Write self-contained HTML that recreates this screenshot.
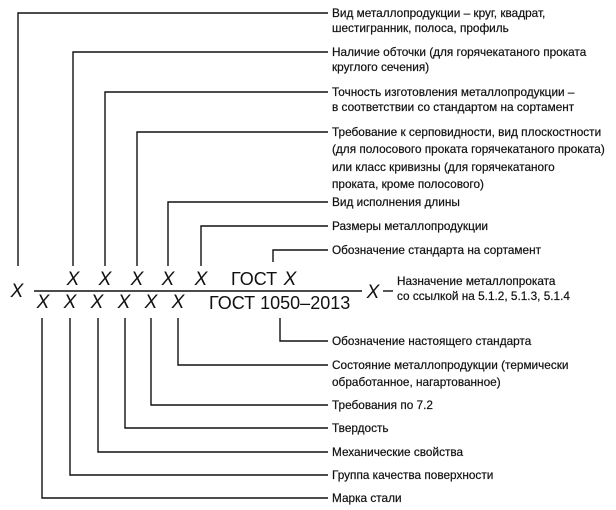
<!DOCTYPE html>
<html><head><meta charset="utf-8"><style>
html,body{margin:0;padding:0;background:#fff;width:616px;height:510px;overflow:hidden}
svg{display:block}
text{font-family:"Liberation Sans",Arial,sans-serif;fill:#111}
.t{font-size:11.8px;stroke:#111;stroke-width:0.2}
.x{font-size:19px;font-style:italic}
.g{font-size:18px}
</style></head><body>
<svg width="616" height="510" viewBox="0 0 616 510" xmlns="http://www.w3.org/2000/svg">
<g stroke="#111" stroke-width="1.4" fill="none">
<polyline points="18,266 18,13 328,13"/>
<polyline points="73,266 73,52 328,52"/>
<polyline points="105,266 105,92 328,92"/>
<polyline points="137,266 137,132 328,132"/>
<polyline points="168,266 168,202 328,202"/>
<polyline points="201,266 201,226 328,226"/>
<polyline points="273,262 273,250 328,250"/>
<line x1="34" y1="291" x2="362" y2="291"/>
<line x1="383" y1="291" x2="393" y2="291"/>
<polyline points="280,318 280,341 328,341"/>
<polyline points="178,318 178,365 328,365"/>
<polyline points="151,318 151,405 328,405"/>
<polyline points="125,318 125,428 328,428"/>
<polyline points="98,318 98,452 328,452"/>
<polyline points="70,318 70,475 328,475"/>
<polyline points="42,318 42,498 328,498"/>
</g>
<g class="x" text-anchor="middle">
<text x="17" y="297">X</text>
<text x="73" y="285">X</text><text x="105" y="285">X</text><text x="137" y="285">X</text><text x="168" y="285">X</text><text x="201" y="285">X</text>
<text x="290" y="285">X</text>
<text x="373" y="298">X</text>
<text x="43" y="308">X</text><text x="70" y="308">X</text><text x="97" y="308">X</text><text x="124" y="308">X</text><text x="151" y="308">X</text><text x="178" y="308">X</text>
</g>
<text class="g" x="231" y="285">ГОСТ</text>
<text class="g" x="209" y="309">ГОСТ 1050–2013</text>
<g class="t">
<text x="332" y="17">Вид металлопродукции – круг, квадрат,</text>
<text x="332" y="32">шестигранник, полоса, профиль</text>
<text x="332" y="56">Наличие обточки (для горячекатаного проката</text>
<text x="332" y="71">круглого сечения)</text>
<text x="332" y="96">Точность изготовления металлопродукции –</text>
<text x="332" y="111">в соответствии со стандартом на сортамент</text>
<text x="332" y="136">Требование к серповидности, вид плоскостности</text>
<text x="332" y="153">(для полосового проката горячекатаного проката)</text>
<text x="332" y="171">или класс кривизны (для горячекатаного</text>
<text x="332" y="188">проката, кроме полосового)</text>
<text x="332" y="206">Вид исполнения длины</text>
<text x="332" y="230">Размеры металлопродукции</text>
<text x="332" y="254">Обозначение стандарта на сортамент</text>
<text x="397" y="285">Назначение металлопроката</text>
<text x="397" y="300">со ссылкой на 5.1.2, 5.1.3, 5.1.4</text>
<text x="332" y="345">Обозначение настоящего стандарта</text>
<text x="332" y="369">Состояние металлопродукции (термически</text>
<text x="332" y="386">обработанное, нагартованное)</text>
<text x="332" y="409">Требования по 7.2</text>
<text x="332" y="432">Твердость</text>
<text x="332" y="456">Механические свойства</text>
<text x="332" y="479">Группа качества поверхности</text>
<text x="332" y="502">Марка стали</text>
</g>
</svg>
</body></html>
